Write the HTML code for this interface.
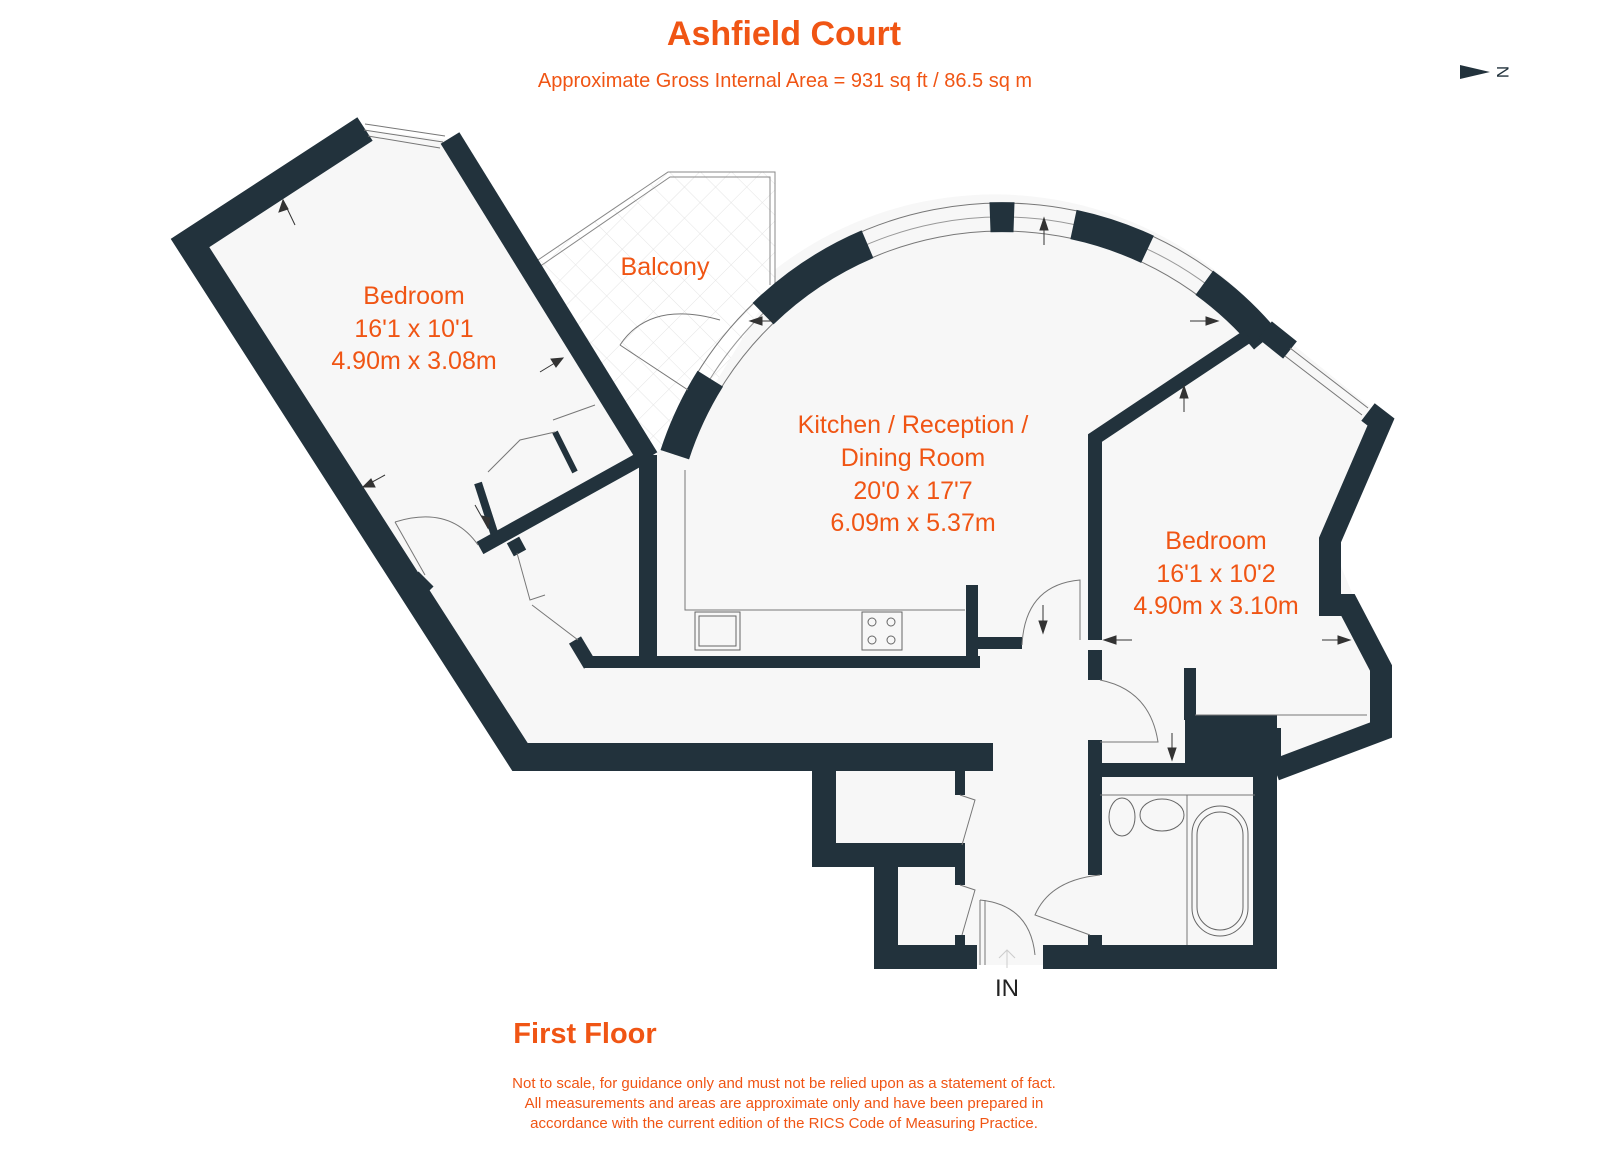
<!DOCTYPE html>
<html><head><meta charset="utf-8"><style>
html,body{margin:0;padding:0;background:#fff;}
svg{display:block;}
text{font-family:"Liberation Sans",Arial,sans-serif;}
</style></head><body>
<svg width="1600" height="1159" viewBox="0 0 1600 1159" xmlns="http://www.w3.org/2000/svg">
<defs>
<pattern id="hatch" width="22" height="22" patternUnits="userSpaceOnUse" patternTransform="rotate(45)">
<rect width="22" height="22" fill="#fff"/>
<path d="M0 0H22M0 0V22" stroke="#e4e4e4" stroke-width="1"/>
</pattern>
</defs>
<!-- floor -->
<path d="M190,243 L365,130 L450,140 L650,455 A358,358 0 0 1 1275,330 L1380,415 L1330,540 L1355,600 L1383,665 L1383,735 L1275,770 L1275,965 L880,965 L880,860 L820,860 L820,770 L515,770 Z" fill="#f7f7f7"/>
<!-- balcony -->
<path d="M535,262 L668,172 L775,172 L775,285 L705,400 L655,455 Z" fill="url(#hatch)"/>
<path d="M535,262 L668,172 L775,172 L775,285" fill="none" stroke="#888" stroke-width="1"/>
<path d="M539,267 L670,177 L770,177 L770,285" fill="none" stroke="#888" stroke-width="1"/>
<!-- arc windows -->
<path d="M661.5,450.4 A358,358 0 0 1 1276.2,330.9" fill="none" stroke="#777" stroke-width="1"/>
<path d="M688.2,459 A330,330 0 0 1 1254.8,348.9" fill="none" stroke="#777" stroke-width="1"/>
<path d="M674.8,454.7 A344,344 0 0 1 1265.5,339.8" fill="none" stroke="#999" stroke-width="1"/>
<!-- arc solid segments -->
<g fill="none" stroke="#22323c" stroke-width="30">
<path d="M674.8,454.7 A344,344 0 0 1 710.3,378.7"/>
<path d="M763.1,313.6 A344,344 0 0 1 867.5,244.2"/>
<path d="M990,217.3 A344,344 0 0 1 1014,217.3"/>
<path d="M1073.5,224.5 A344,344 0 0 1 1147.5,249.3"/>
<path d="M1204.3,282.7 A344,344 0 0 1 1265.5,339.8"/>
</g>
<!-- walls -->
<g fill="none" stroke="#22323c" stroke-linejoin="miter" stroke-linecap="butt">
<path d="M365,129 L190,243 L520,757 L993,757" stroke-width="28"/>
<path d="M450,138 L648,458" stroke-width="22"/>
<path d="M642,458 L480,548" stroke-width="14"/>
<path d="M648,455 L648,662" stroke-width="18"/>
<path d="M585,662 L980,662" stroke-width="12"/>
<path d="M972,585 L972,662 M975,643 L1022,643" stroke-width="12"/>
<path d="M1248,336 L1095,438 L1095,640" stroke-width="14"/>
<path d="M1095,650 L1095,680" stroke-width="14"/>
<path d="M1265,330 L1290,350" stroke-width="22"/>
<path d="M1368,412 L1381,422 L1330,540 L1330,605 L1348,605 L1381,668 L1381,730 L1275,770" stroke-width="22"/>
<path d="M1095,740 L1095,875 M1095,935 L1095,945" stroke-width="14"/>
<path d="M1095,770 L1275,770" stroke-width="14"/>
<path d="M1190,668 L1190,720" stroke-width="12"/>
<path d="M1265,762 L1265,968" stroke-width="24"/>
<path d="M1043,957 L1277,957" stroke-width="24"/>
<path d="M824,765 L824,855 L965,855" stroke-width="24"/>
<path d="M886,845 L886,957 L977,957" stroke-width="24"/>
<path d="M960,768 L960,795 M960,845 L960,885 M960,935 L960,946" stroke-width="10"/>
<path d="M478,483 L498,545" stroke-width="8"/>
<path d="M555,432 L575,472" stroke-width="6"/>
<path d="M575,640 L590,665" stroke-width="14"/>
<path d="M415,575 L430,590" stroke-width="10"/>
<path d="M513,540 L520,553" stroke-width="14"/>
</g>
<rect x="1185" y="715" width="92" height="50" fill="#22323c"/>
<rect x="1275" y="728" width="6" height="40" fill="#22323c"/>
<!-- top window bedroom -->
<path d="M365,124 L445,136 M364,130 L443,142 M368,136 L440,148" stroke="#777" stroke-width="1" fill="none"/>
<path d="M1290,348 L1368,408 M1285,356 L1362,415" stroke="#777" stroke-width="1" fill="none"/>
<!-- thin lines / doors -->
<g fill="none" stroke="#777" stroke-width="1">
<path d="M1195,715 L1367,715"/>
<path d="M685,470 L685,610 L965,610"/>
<path d="M395,522 Q450,505 478,545"/>
<path d="M395,522 L425,575"/>
<path d="M620,345 Q650,300 720,320"/>
<path d="M620,345 L688,390"/>
<path d="M1022,645 Q1025,585 1080,580 L1080,640"/>
<path d="M1100,680 Q1150,690 1158,742 L1100,742"/>
<path d="M1100,875 Q1050,880 1035,915 L1090,935"/>
<path d="M980,900 Q1030,905 1035,955 M980,900 L980,965 M985,900 L985,965"/>
<path d="M960,795 L975,800 L962,845"/>
<path d="M960,885 L975,890 L962,935"/>
<path d="M517,553 L530,600 L545,595 M532,605 L578,640"/>
<path d="M488,472 L520,440 L555,432 M553,420 L595,405"/>
<path d="M1100,795 L1255,795 M1187,795 L1187,945"/>
</g>
<!-- kitchen fixtures -->
<g fill="none" stroke="#666" stroke-width="1">
<rect x="695" y="612" width="45" height="38"/>
<rect x="699" y="616" width="37" height="30"/>
<rect x="862" y="612" width="40" height="38"/>
<circle cx="872" cy="622" r="4"/><circle cx="891" cy="622" r="4"/>
<circle cx="872" cy="640" r="4"/><circle cx="891" cy="640" r="4"/>
<ellipse cx="1122" cy="817" rx="13" ry="19"/>
<ellipse cx="1162" cy="815" rx="22" ry="16"/>
<rect x="1192" y="806" width="56" height="130" rx="28"/>
<rect x="1197" y="812" width="46" height="118" rx="23"/>
</g>
<!-- measure arrows -->
<g stroke="#333" stroke-width="1" fill="#333">
<path d="M295,225 L283,200"/><path d="M283,200 L279,212 L288,209Z"/>
<path d="M540,372 L563,358"/><path d="M563,358 L551,359 L556,367Z"/>
<path d="M385,475 L363,487"/><path d="M363,487 L375,487 L371,479Z"/>
<path d="M475,505 L488,528"/><path d="M488,528 L482,516 L490,518Z"/>
<path d="M1044,245 L1044,218"/><path d="M1044,218 L1040,230 L1048,230Z"/>
<path d="M775,321 L750,321"/><path d="M750,321 L762,317 L762,325Z"/>
<path d="M1190,321 L1218,321"/><path d="M1218,321 L1206,317 L1206,325Z"/>
<path d="M1184,412 L1184,386"/><path d="M1184,386 L1180,398 L1188,398Z"/>
<path d="M1043,605 L1043,633"/><path d="M1043,633 L1039,621 L1047,621Z"/>
<path d="M1132,640 L1104,640"/><path d="M1104,640 L1116,636 L1116,644Z"/>
<path d="M1322,640 L1350,640"/><path d="M1350,640 L1338,636 L1338,644Z"/>
<path d="M1172,733 L1172,760"/><path d="M1172,760 L1168,748 L1176,748Z"/>
</g>
<path d="M1007,968 L1007,950 M999,958 L1007,950 L1015,958" stroke="#ccc" fill="none"/>
<!-- north -->
<path d="M1460,65 L1490,72 L1460,79Z" fill="#22323c"/>
<text x="1503" y="72" font-size="17" fill="#22323c" text-anchor="middle" transform="rotate(90 1503 72)" dy="6">N</text>
<!-- text -->
<g fill="#f05514" text-anchor="middle">
<text x="784" y="45" font-size="34" font-weight="bold">Ashfield Court</text>
<text x="785" y="87" font-size="20">Approximate Gross Internal Area = 931 sq ft / 86.5 sq m</text>
<text x="414" y="304" font-size="25">Bedroom</text>
<text x="414" y="337" font-size="25">16'1 x 10'1</text>
<text x="414" y="369" font-size="25">4.90m x 3.08m</text>
<text x="665" y="275" font-size="25">Balcony</text>
<text x="913" y="433" font-size="25">Kitchen / Reception /</text>
<text x="913" y="466" font-size="25">Dining Room</text>
<text x="913" y="499" font-size="25">20'0 x 17'7</text>
<text x="913" y="531" font-size="25">6.09m x 5.37m</text>
<text x="1216" y="549" font-size="25">Bedroom</text>
<text x="1216" y="582" font-size="25">16'1 x 10'2</text>
<text x="1216" y="614" font-size="25">4.90m x 3.10m</text>
<text x="585" y="1043" font-size="29" font-weight="bold">First Floor</text>
<text x="784" y="1088" font-size="15">Not to scale, for guidance only and must not be relied upon as a statement of fact.</text>
<text x="784" y="1108" font-size="15">All measurements and areas are approximate only and have been prepared in</text>
<text x="784" y="1128" font-size="15">accordance with the current edition of the RICS Code of Measuring Practice.</text>
</g>
<text x="1007" y="996" font-size="24" fill="#222" text-anchor="middle">IN</text>
</svg>
</body></html>
